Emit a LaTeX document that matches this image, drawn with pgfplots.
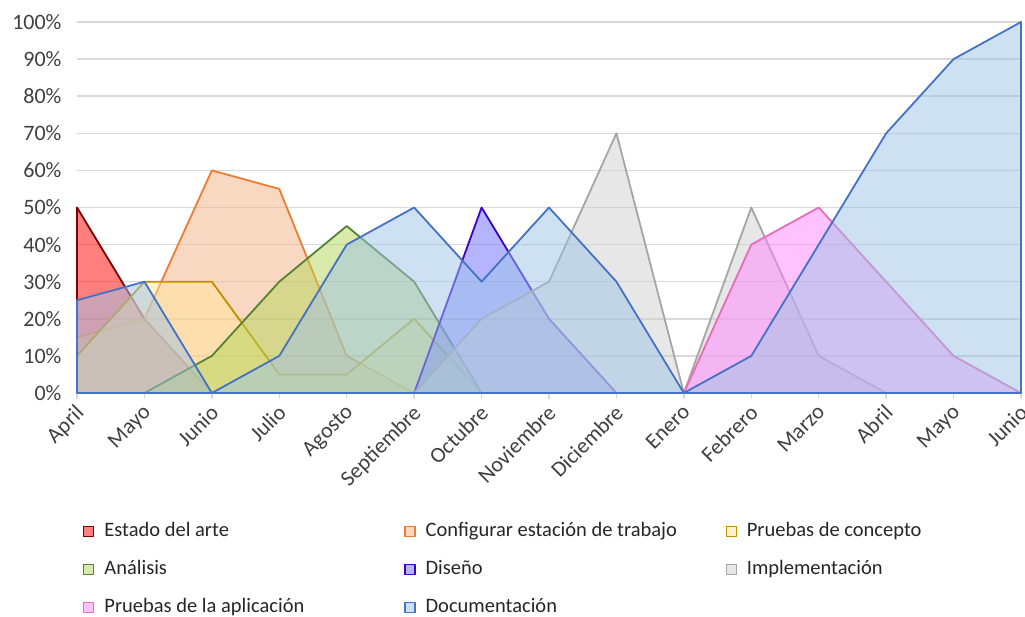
\documentclass[border=0pt]{standalone}
\usepackage{pgfplots}
\pgfplotsset{compat=1.18}
\usepackage{fontspec}
\setmainfont{Carlito}
\definecolor{txt}{HTML}{404040}
\definecolor{grd}{HTML}{D9D9D9}
\definecolor{lred}{HTML}{7F0000}\definecolor{fred}{HTML}{FF0000}
\definecolor{lora}{HTML}{ED7D31}\definecolor{fora}{HTML}{F4B183}
\definecolor{lgol}{HTML}{BF9000}\definecolor{fgol}{HTML}{FFE699}
\definecolor{lgre}{HTML}{548235}\definecolor{fgre}{HTML}{B6D65A}
\definecolor{lpur}{HTML}{3C00C8}\definecolor{fpur}{HTML}{6B6BFF}
\definecolor{lgra}{HTML}{A5A5A5}\definecolor{fgra}{HTML}{D0D0D0}
\definecolor{lpin}{HTML}{E86DB8}\definecolor{fpin}{HTML}{FF85FF}
\definecolor{lblu}{HTML}{4472C4}\definecolor{fblu}{HTML}{9DC3E6}
\pgfplotstableread{
x est con gol gre dis imp pru doc
0  50 15 10  0  0  0  0  25
1  20 20 30  0  0  0  0  30
2   0 60 30 10  0  0  0   0
3   0 55  5 30  0  0  0  10
4   0 10  5 45  0  0  0  40
5   0  0 20 30  0  0  0  50
6   0  0  0  0 50 20  0  30
7   0  0  0  0 20 30  0  50
8   0  0  0  0  0 70  0  30
9   0  0  0  0  0  0  0   0
10  0  0  0  0  0 50 40  10
11  0  0  0  0  0 10 50  40
12  0  0  0  0  0  0 30  70
13  0  0  0  0  0  0 10  90
14  0  0  0  0  0  0  0 100
}\datatab
\begin{document}
\begin{tikzpicture}
\path[use as bounding box] (-77pt,-224pt) rectangle (948pt,393pt);
\begin{axis}[
  at={(0pt,0pt)}, anchor=south west,
  scale only axis, width=944pt, height=371pt,
  xmin=0, xmax=14, ymin=0, ymax=100,
  clip=false,
  axis line style={draw=none},
  xtick={0,...,14},
  xticklabels={April,Mayo,Junio,Julio,Agosto,Septiembre,Octubre,Noviembre,Diciembre,Enero,Febrero,Marzo,Abril,Mayo,Junio},
  ytick={0,10,...,100},
  yticklabels={0\%,10\%,20\%,30\%,40\%,50\%,60\%,70\%,80\%,90\%,100\%},
  xtick pos=bottom, ytick pos=left,
  tick align=outside, major tick length=6pt,
  x tick style={draw=grd, line width=1.5pt},
  y tick style={draw=none},
  ymajorgrids, grid style={draw=grd, line width=1.5pt},
  tick label style={font=\fontsize{22}{26}\selectfont, text=txt},
  xticklabel style={rotate=45, anchor=north east, inner sep=1pt, xshift=-4pt},
  yticklabel style={xshift=-6pt},
  legend columns=3,
  legend cell align=left,
  legend image code/.code={\draw[#1,line width=1.2pt] (0pt,-5pt) rectangle (10pt,5pt);},
  legend style={at={(0.0064,-0.343)}, anchor=north west, draw=none, fill=none,
    inner sep=0pt, font=\fontsize{20.5}{24}\selectfont, text=black!85,
    nodes={text width=298pt, align=flush left, text height=14pt, text depth=4pt, inner xsep=2pt, inner ysep=2pt},
    /tikz/row sep=16pt,
    /tikz/every odd column/.style={column sep=8pt},
    /tikz/every even column/.style={column sep=0pt},
    /tikz/column 2/.style={column sep=8pt}},
  every axis plot/.append style={line width=1.8pt, line join=round, fill opacity=0.5, draw opacity=1},
]
\addplot[draw=lred, fill=fred] table[x=x,y=est]{\datatab} \closedcycle;
\addlegendentry{Estado del arte}
\addplot[draw=lora, fill=fora] table[x=x,y=con]{\datatab} \closedcycle;
\addlegendentry{Configurar estación de trabajo}
\addplot[draw=lgol, fill=fgol] table[x=x,y=gol]{\datatab} \closedcycle;
\addlegendentry{Pruebas de concepto}
\addplot[draw=lgre, fill=fgre] table[x=x,y=gre]{\datatab} \closedcycle;
\addlegendentry{Análisis}
\addplot[draw=lpur, fill=fpur] table[x=x,y=dis]{\datatab} \closedcycle;
\addlegendentry{Diseño}
\addplot[draw=lgra, fill=fgra] table[x=x,y=imp]{\datatab} \closedcycle;
\addlegendentry{Implementación}
\addplot[draw=lpin, fill=fpin] table[x=x,y=pru]{\datatab} \closedcycle;
\addlegendentry{Pruebas de la aplicación}
\addplot[draw=lblu, fill=fblu] table[x=x,y=doc]{\datatab} \closedcycle;
\addlegendentry{Documentación}
\end{axis}
\end{tikzpicture}
\end{document}
